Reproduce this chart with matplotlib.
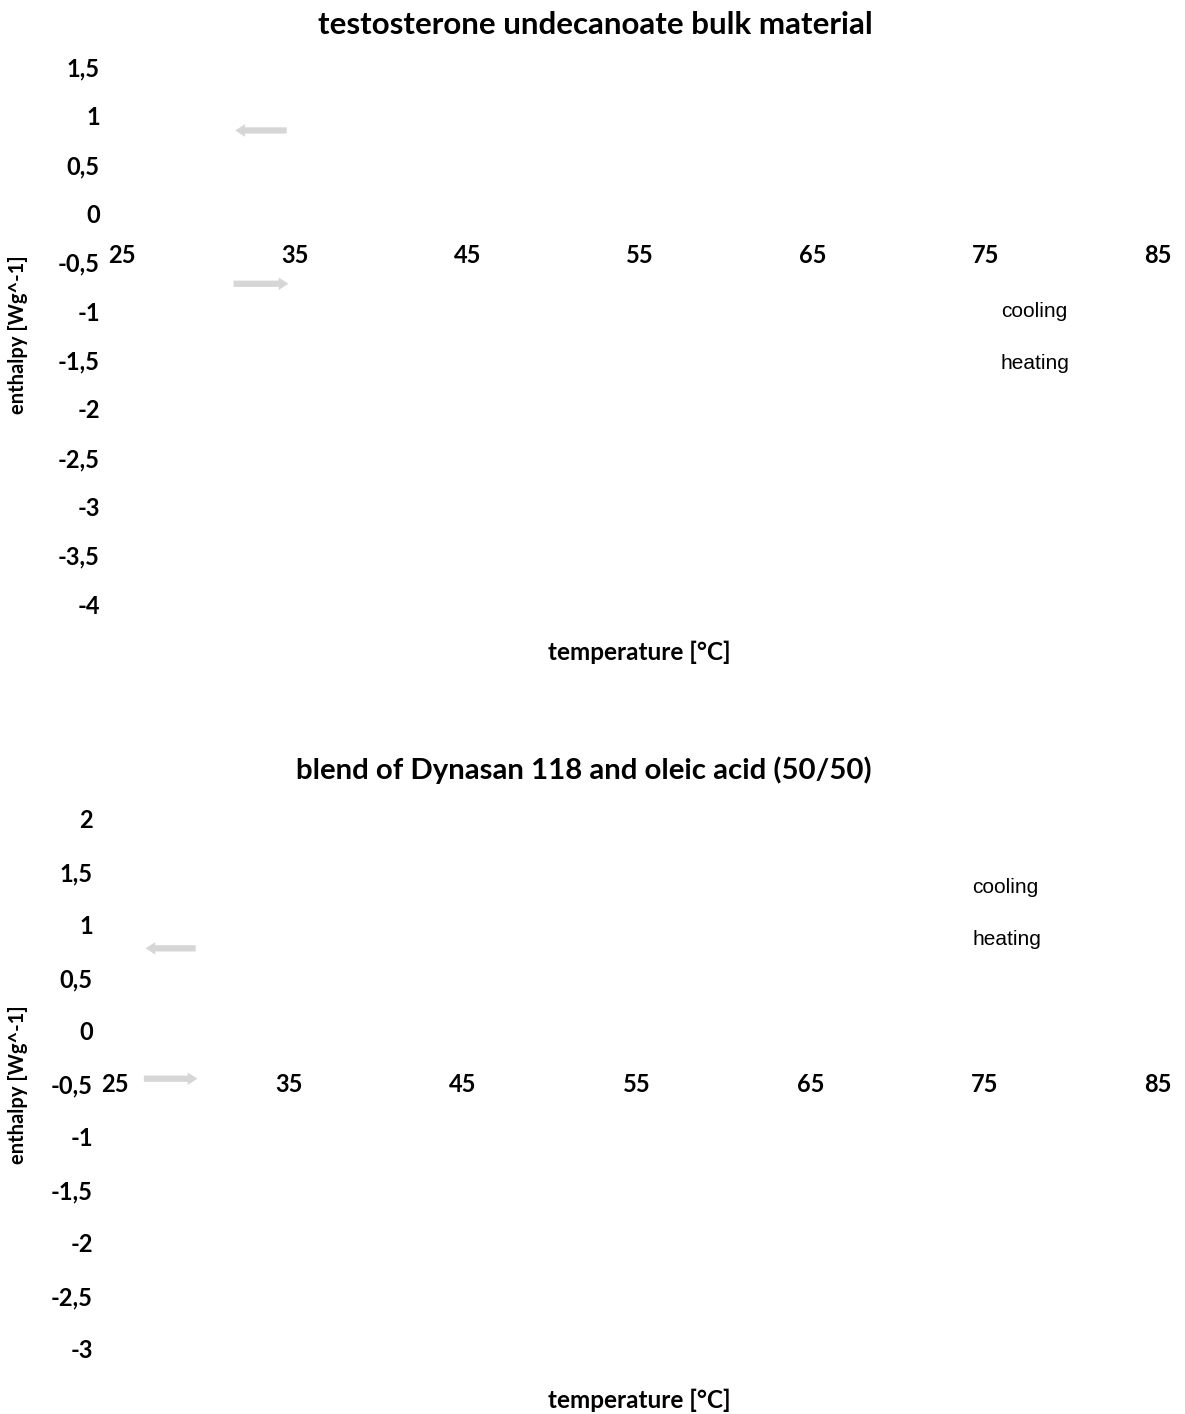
import matplotlib
matplotlib.use("Agg")
import matplotlib.pyplot as plt
from matplotlib.ticker import FuncFormatter

# chart content
titles = ["testosterone undecanoate bulk material",
          "blend of Dynasan 118 and oleic acid (50/50)"]
series_names = ["cooling", "heating"]
x_ticks = [25, 35, 45, 55, 65, 75, 85]
y_ticks_top = [1.5, 1, 0.5, 0, -0.5, -1, -1.5, -2, -2.5, -3, -3.5, -4]
y_ticks_bottom = [2, 1.5, 1, 0.5, 0, -0.5, -1, -1.5, -2, -2.5, -3]
# curves are not visible in the source picture
temperature = []
cooling = []
heating = []

W, H = 1185, 1414
fig = plt.figure(figsize=(W / 100, H / 100), dpi=100)

TICK_FONT = dict(family="Lato", weight="bold", size=17)
ARROW_GREY = "#d6d6d6"


def comma(v, pos):
    s = "%g" % v
    return s.replace(".", ",")


def setup(ax, yticks, xpad, legend_xy, arrows, title, title_xy, title_size,
          xlabel_y, ylabel_y):
    ax.set_xlim(x_ticks[0], x_ticks[-1])
    ax.set_ylim(min(yticks), max(yticks))
    for s in ax.spines.values():
        s.set_visible(False)
    ax.spines["bottom"].set_position(("data", 0))
    ax.set_xticks(x_ticks)
    ax.set_yticks(yticks)
    ax.yaxis.set_major_formatter(FuncFormatter(comma))
    ax.tick_params(axis="x", length=0, pad=xpad)
    ax.tick_params(axis="y", length=0, pad=16)
    for lab in ax.get_xticklabels() + ax.get_yticklabels():
        lab.set_fontfamily(TICK_FONT["family"])
        lab.set_fontweight(TICK_FONT["weight"])
        lab.set_fontsize(TICK_FONT["size"])

    ax.plot(temperature, cooling, color="white", label=series_names[0])
    ax.plot(temperature, heating, color="white", label=series_names[1])
    ax.legend(loc="upper left", bbox_to_anchor=legend_xy, bbox_transform=fig.transFigure,
              frameon=False, handlelength=0, handletextpad=0, borderpad=0,
              borderaxespad=0, labelspacing=1.6,
              prop=dict(family="Liberation Sans", size=15))

    for x0, x1, y in arrows:
        ax.annotate("", xy=(x1, y), xytext=(x0, y),
                    arrowprops=dict(arrowstyle="simple,head_length=0.7,head_width=0.9,tail_width=0.45",
                                    color=ARROW_GREY, lw=0))

    fig.text(title_xy[0] / W, 1 - title_xy[1] / H, title, ha="center", va="center",
             family="Lato", weight="bold", size=title_size)
    fig.text(639 / W, 1 - xlabel_y / H, "temperature [°C]", ha="center", va="center",
             family="Lato", weight="bold", size=17.5)
    fig.text(18 / W, 1 - ylabel_y / H, "enthalpy [Wg^-1]", ha="center", va="center",
             rotation=90, family="Lato", weight="bold", size=14.5)


ax1 = fig.add_axes([122 / W, 1 - 604 / H, (1158 - 122) / W, (604 - 67) / H])
setup(ax1, y_ticks_top, 22, (1001 / W, 1 - 302 / H),
      [(34.7, 31.4, 0.85), (31.3, 34.8, -0.72)],
      titles[0], (595, 25), 22.5, 652, 335)

ax2 = fig.add_axes([115 / W, 1 - 1349 / H, (1158 - 115) / W, (1349 - 819) / H])
setup(ax2, y_ticks_bottom, 30, (972 / W, 1 - 878 / H),
      [(29.8, 26.6, 0.78), (26.5, 29.9, -0.45)],
      titles[1], (584, 770), 21.2, 1400, 1085)

fig.savefig("out.png", dpi=100, facecolor="white")
